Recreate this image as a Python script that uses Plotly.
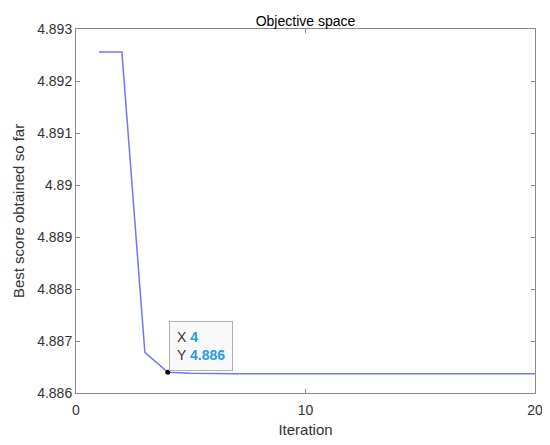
import plotly.graph_objects as go

# convergence curve
iterations = list(range(1, 21))
best_score = [4.89256, 4.89256, 4.88678, 4.88640, 4.88638, 4.88637, 4.88637,
              4.88637, 4.88637, 4.88637, 4.88637, 4.88637, 4.88637, 4.88637,
              4.88637, 4.88637, 4.88637, 4.88637, 4.88637, 4.88637]

y_tickvals = [4.886, 4.887, 4.888, 4.889, 4.890, 4.891, 4.892, 4.893]
y_ticktext = ["4.886", "4.887", "4.888", "4.889", "4.89", "4.891", "4.892", "4.893"]
x_tickvals = [0, 10, 20]

tip_x = 4
tip_y = best_score[3]

axis_color = "#8a8a8a"
font_color = "#333333"

fig = go.Figure()

fig.add_trace(go.Scatter(
    x=iterations,
    y=best_score,
    mode="lines",
    line=dict(color="#7474fa", width=1.5),
    showlegend=False
))

fig.add_trace(go.Scatter(
    x=[tip_x],
    y=[tip_y],
    mode="markers",
    marker=dict(color="black", size=5),
    showlegend=False
))

fig.add_annotation(
    x=tip_x, y=tip_y,
    text="X <span style='color:#1e9bf0'><b>4</b></span><br>"
         "Y <span style='color:#1e9bf0'><b>4.886</b></span>",
    showarrow=False,
    xanchor="left", yanchor="bottom",
    xshift=1, yshift=1,
    align="left",
    font=dict(family="Liberation Sans, Arial", size=14, color="#333333"),
    bgcolor="#f9f9fb",
    bordercolor="#b0b0b0",
    borderwidth=1,
    borderpad=7
)

# page body has an 8px margin, so the figure is drawn 8px smaller
fig.update_layout(
    width=542,
    height=437,
    title=dict(
        text="Objective space",
        x=0.5 + (68 - 15) / 2 / 542,
        xanchor="center",
        y=1 - 13 / 437,
        yanchor="middle",
        font=dict(size=14, color="#000000")
    ),
    font=dict(family="Liberation Sans, Arial", size=14, color=font_color),
    xaxis=dict(
        range=[0, 20],
        tickvals=x_tickvals,
        ticks="inside",
        ticklen=4,
        tickcolor=axis_color,
        showline=True,
        linecolor=axis_color,
        linewidth=1,
        mirror="ticks",
        showgrid=False,
        zeroline=False,
        automargin=False,
        ticklabelstandoff=4,
        title=dict(text="Iteration", standoff=7, font=dict(size=15))
    ),
    yaxis=dict(
        range=[4.886, 4.893],
        tickvals=y_tickvals,
        ticktext=y_ticktext,
        ticks="inside",
        ticklen=4,
        tickcolor=axis_color,
        showline=True,
        linecolor=axis_color,
        linewidth=1,
        mirror="ticks",
        showgrid=False,
        zeroline=False,
        automargin=False,
        title=dict(text="Best score obtained so far", standoff=8, font=dict(size=15))
    ),
    margin=dict(l=68, r=15, t=21, b=52),
    plot_bgcolor="white",
    paper_bgcolor="white"
)

fig.write_html("out.html")
